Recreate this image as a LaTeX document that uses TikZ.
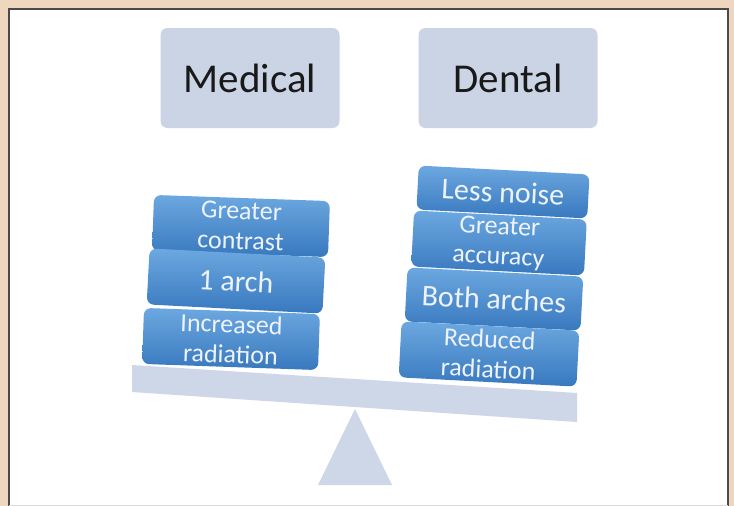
\documentclass[tikz,border=0pt]{standalone}
\usepackage{fontspec}
\setmainfont{Carlito}
\definecolor{framebg}{HTML}{EFD6BF}
\definecolor{frameline}{HTML}{4A4A4A}
\definecolor{headfill}{HTML}{CAD4E5}
\definecolor{bluetop}{HTML}{6CA8E0}
\definecolor{bluebot}{HTML}{3878BE}
\definecolor{beamfill}{HTML}{CDD7E8}
\definecolor{labeltext}{HTML}{EEF3FA}

\begin{document}
\begin{tikzpicture}[x=1pt, y=-1pt,
	head/.style={fill=headfill, rounded corners=7pt, minimum width=179pt, minimum height=100pt,
		font=\fontsize{41}{41}\selectfont, text=black!90},
	weight/.style={top color=bluetop, bottom color=bluebot, rounded corners=7pt, text=labeltext,
		align=center, inner sep=0pt, minimum width=176pt, minimum height=56pt,
		font=\fontsize{26}{30}\selectfont},
	bigweight/.style={weight, font=\fontsize{30}{30}\selectfont},
]
	\useasboundingbox (0,0) rectangle (734,506);
	% frame
	\fill[framebg] (0,0) rectangle (734,506);
	\fill[white] (9,9) rectangle (728,506);
	\draw[frameline, line width=1.3pt] (9,506) -- (9,9) -- (728,9) -- (728,506);
	\draw[black!15, line width=1pt] (9,505) -- (728,505);

	% headers
	\node[head] (med) at (250,78) {Medical};
	\node[head] (den) at (508,78) {Dental};

	% left pan
	\node[weight, rotate=-2] (contrast) at (241,226) {Greater\\contrast};
	\node[bigweight, rotate=-3] (arch) at (236,281) {1 arch};
	\node[weight, rotate=-2] (radmore) at (231,339) {Increased\\radiation};

	% right pan
	\node[bigweight, rotate=-3, minimum width=171pt, minimum height=44pt] (noise) at (503,192) {Less noise};
	\node[weight, rotate=-3, minimum width=173pt] (accuracy) at (499,243) {Greater\\accuracy};
	\node[bigweight, rotate=-3, minimum height=54pt] (arches) at (494,299) {Both arches};
	\node[weight, rotate=-3, minimum width=178pt] (radless) at (489,354) {Reduced\\radiation};

	% beam and fulcrum
	\fill[beamfill] (132,365) -- (577,393) -- (577,422) -- (132,392) -- cycle;
	\fill[beamfill] (355,409) -- (392,485) -- (318,485) -- cycle;
\end{tikzpicture}
\end{document}
